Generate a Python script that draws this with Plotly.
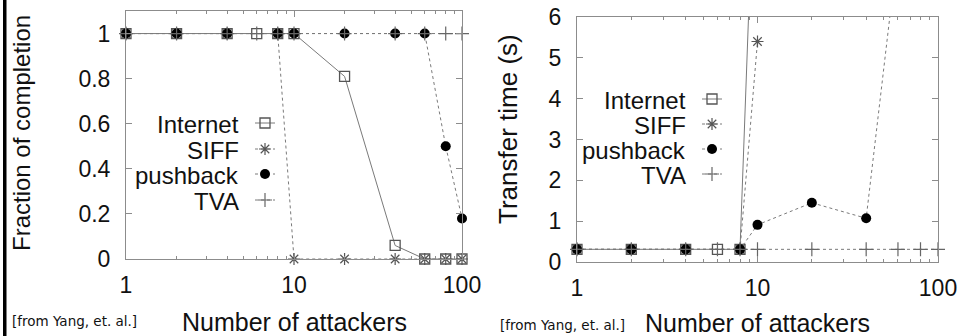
import plotly.graph_objects as go

# ---------------- data ----------------
series_names = ["Internet", "SIFF", "pushback", "TVA"]

# Left panel: fraction of completion
internet_x_l = [1, 2, 4, 6, 8, 10, 20, 40, 60, 80, 100]
internet_frac = [1, 1, 1, 1, 1, 1, 0.81, 0.06, 0, 0, 0]
siff_x_l = [1, 2, 4, 8, 10, 20, 40, 60, 80, 100]
siff_frac = [1, 1, 1, 1, 0, 0, 0, 0, 0, 0]
pushback_x_l = [1, 2, 4, 8, 10, 20, 40, 60, 80, 100]
pushback_frac = [1, 1, 1, 1, 1, 1, 1, 1, 0.5, 0.18]
tva_x_l = [1, 2, 4, 6, 8, 10, 20, 40, 60, 80, 100]
tva_frac = [1, 1, 1, 1, 1, 1, 1, 1, 1, 1, 1]

# Right panel: transfer time (s)
internet_x_r = [1, 2, 4, 6, 8, 10]
internet_time = [0.31, 0.31, 0.31, 0.31, 0.31, 12.0]
siff_x_r = [1, 2, 4, 8, 10]
siff_time = [0.31, 0.31, 0.31, 0.31, 5.4]
pushback_x_r = [1, 2, 4, 8, 10, 20, 40, 60]
pushback_time = [0.31, 0.31, 0.31, 0.31, 0.91, 1.45, 1.07, 7.7]
tva_x_r = [1, 2, 4, 6, 8, 10, 20, 40, 60, 80, 100]
tva_time = [0.31] * 11

x_tickvals = [1, 10, 100]
x_ticktext = ["1", "10", "100"]
x_minor = [2, 3, 4, 5, 6, 7, 8, 9, 20, 30, 40, 50, 60, 70, 80, 90]
frac_ticks = [0, 0.2, 0.4, 0.6, 0.8, 1]
frac_ticktext = ["0", "0.2", "0.4", "0.6", "0.8", "1"]
time_ticks = [0, 1, 2, 3, 4, 5, 6]

left_ylabel = "Fraction of completion"
right_ylabel = "Transfer time (s)"
xlabel = "Number of attackers"
credit = "[from Yang, et. al.]"

# ---------------- styles ----------------
W, H = 963, 336
FONT = "Liberation Sans, Arial, Helvetica, sans-serif"
LINE_GRAY = "#7a7a7a"
styles = {
    "Internet": dict(dash="solid", symbol="square-open", size=10, mcolor="#555555", mwidth=1.3),
    "SIFF": dict(dash="dot", symbol="asterisk-open", size=10, mcolor="#555555", mwidth=1.2),
    "pushback": dict(dash="dot", symbol="circle", size=10, mcolor="#000000", mwidth=0),
    "TVA": dict(dash="dot", symbol="cross-thin-open", size=10, mcolor="#666666", mwidth=1.2),
}

fig = go.Figure()


def add_series(name, xs, ys, xa, ya, ymax):
    st = styles[name]
    fig.add_trace(go.Scatter(
        x=xs, y=ys, mode="lines", xaxis=xa, yaxis=ya, showlegend=False,
        line=dict(color=LINE_GRAY, width=1, dash=st["dash"]), hoverinfo="skip"))
    mx = [x for x, y in zip(xs, ys) if y <= ymax]
    my = [y for y in ys if y <= ymax]
    fig.add_trace(go.Scatter(
        x=mx, y=my, mode="markers", xaxis=xa, yaxis=ya, showlegend=False,
        cliponaxis=False,
        marker=dict(symbol=st["symbol"], size=st["size"], color=st["mcolor"],
                    line=dict(color=st["mcolor"], width=st["mwidth"]))))


left = [(internet_x_l, internet_frac), (siff_x_l, siff_frac),
        (pushback_x_l, pushback_frac), (tva_x_l, tva_frac)]
right = [(internet_x_r, internet_time), (siff_x_r, siff_time),
         (pushback_x_r, pushback_time), (tva_x_r, tva_time)]
for name, (xs, ys) in zip(series_names, left):
    add_series(name, xs, ys, "x", "y", 1.1)
for name, (xs, ys) in zip(series_names, right):
    add_series(name, xs, ys, "x2", "y2", 6)

# legend keys drawn on a full-figure pixel overlay
legend_cfg = [
    dict(text_right=241, key_x0=255, key_x1=275, rows=[123, 149, 174, 200]),
    dict(text_right=688, key_x0=702, key_x1=722, rows=[99, 124, 149, 174]),
]
annotations = []
for cfg in legend_cfg:
    for name, yrow in zip(series_names, cfg["rows"]):
        st = styles[name]
        fig.add_trace(go.Scatter(
            x=[cfg["key_x0"], cfg["key_x1"]], y=[yrow, yrow], mode="lines",
            xaxis="x3", yaxis="y3", showlegend=False, hoverinfo="skip",
            line=dict(color=LINE_GRAY, width=1, dash=st["dash"])))
        fig.add_trace(go.Scatter(
            x=[(cfg["key_x0"] + cfg["key_x1"]) / 2], y=[yrow], mode="markers",
            xaxis="x3", yaxis="y3", showlegend=False, hoverinfo="skip",
            marker=dict(symbol=st["symbol"], size=st["size"], color=st["mcolor"],
                        line=dict(color=st["mcolor"], width=st["mwidth"]))))
        annotations.append(dict(
            text=name, xref="paper", yref="paper", x=cfg["text_right"] / W,
            y=1 - (yrow + 1) / H, xanchor="right", yanchor="middle", showarrow=False,
            font=dict(family=FONT, size=24, color="#111")))

# axis titles and credits
annotations += [
    dict(text=left_ylabel, xref="paper", yref="paper", x=22 / W, y=1 - 133 / H,
         textangle=-90, showarrow=False, xanchor="center", yanchor="middle",
         font=dict(family=FONT, size=24, color="#111")),
    dict(text=right_ylabel, xref="paper", yref="paper", x=508 / W, y=1 - 129 / H,
         textangle=-90, showarrow=False, xanchor="center", yanchor="middle",
         font=dict(family=FONT, size=26, color="#111")),
    dict(text=xlabel, xref="paper", yref="paper", x=294.5 / W, y=1 - 322 / H,
         showarrow=False, xanchor="center", yanchor="middle",
         font=dict(family=FONT, size=25, color="#111")),
    dict(text=xlabel, xref="paper", yref="paper", x=757.5 / W, y=1 - 323 / H,
         showarrow=False, xanchor="center", yanchor="middle",
         font=dict(family=FONT, size=25, color="#111")),
    dict(text=credit, xref="paper", yref="paper", x=10 / W, y=1 - 321 / H,
         showarrow=False, xanchor="left", yanchor="middle",
         font=dict(family="DejaVu Sans, Verdana, sans-serif", size=13.5, color="#111")),
    dict(text=credit, xref="paper", yref="paper", x=498 / W, y=1 - 325 / H,
         showarrow=False, xanchor="left", yanchor="middle",
         font=dict(family="DejaVu Sans, Verdana, sans-serif", size=13.5, color="#111")),
]

FRAME = "#8c8c8c"
tickfont = dict(family=FONT, size=23, color="#111")


def xaxis(domain, anchor):
    return dict(domain=domain, anchor=anchor, type="log", range=[0, 2], automargin=False,
                tickvals=x_tickvals, ticktext=x_ticktext, ticks="inside", ticklen=6,
                ticklabelstandoff=5,
                tickcolor=FRAME, showline=True, linecolor=FRAME, linewidth=1,
                mirror="ticks", showgrid=False, zeroline=False, tickfont=tickfont,
                minor=dict(tickvals=x_minor, ticks="inside", ticklen=3, tickcolor=FRAME,
                           showgrid=False))


def yaxis(domain, anchor, rng, tv, tt):
    return dict(domain=domain, anchor=anchor, range=rng, tickvals=tv, ticktext=tt,
                automargin=False, ticklabelstandoff=10,
                ticks="inside", ticklen=6, tickcolor=FRAME, showline=True,
                linecolor=FRAME, linewidth=1, mirror="ticks", showgrid=False,
                zeroline=False, tickfont=tickfont)


fig.update_layout(
    template="none",
    width=W, height=H, margin=dict(l=0, r=0, t=0, b=0, pad=0),
    paper_bgcolor="white", plot_bgcolor="rgba(0,0,0,0)", showlegend=False,
    xaxis=xaxis([126 / W, 462 / W], "y"),
    yaxis=yaxis([1 - 259 / H, 1 - 11 / H], "x", [0, 1.1], frac_ticks, frac_ticktext),
    xaxis2=xaxis([577 / W, 938 / W], "y2"),
    yaxis2=yaxis([1 - 262 / H, 1 - 17 / H], "x2", [0, 6], time_ticks,
                 [str(v) for v in time_ticks]),
    xaxis3=dict(domain=[0, 1], anchor="y3", range=[0, W], visible=False, automargin=False),
    yaxis3=dict(domain=[0, 1], anchor="x3", range=[H, 0], visible=False, automargin=False),
    annotations=annotations,
    shapes=[dict(type="rect", xref="paper", yref="paper", x0=3 / W, x1=6.5 / W,
                 y0=0, y1=1, fillcolor="black", line=dict(width=0))],
)

fig.write_html("out.html", config={"displayModeBar": False, "staticPlot": True},
               post_script="document.body.style.margin='0';document.body.style.overflow='hidden';")
